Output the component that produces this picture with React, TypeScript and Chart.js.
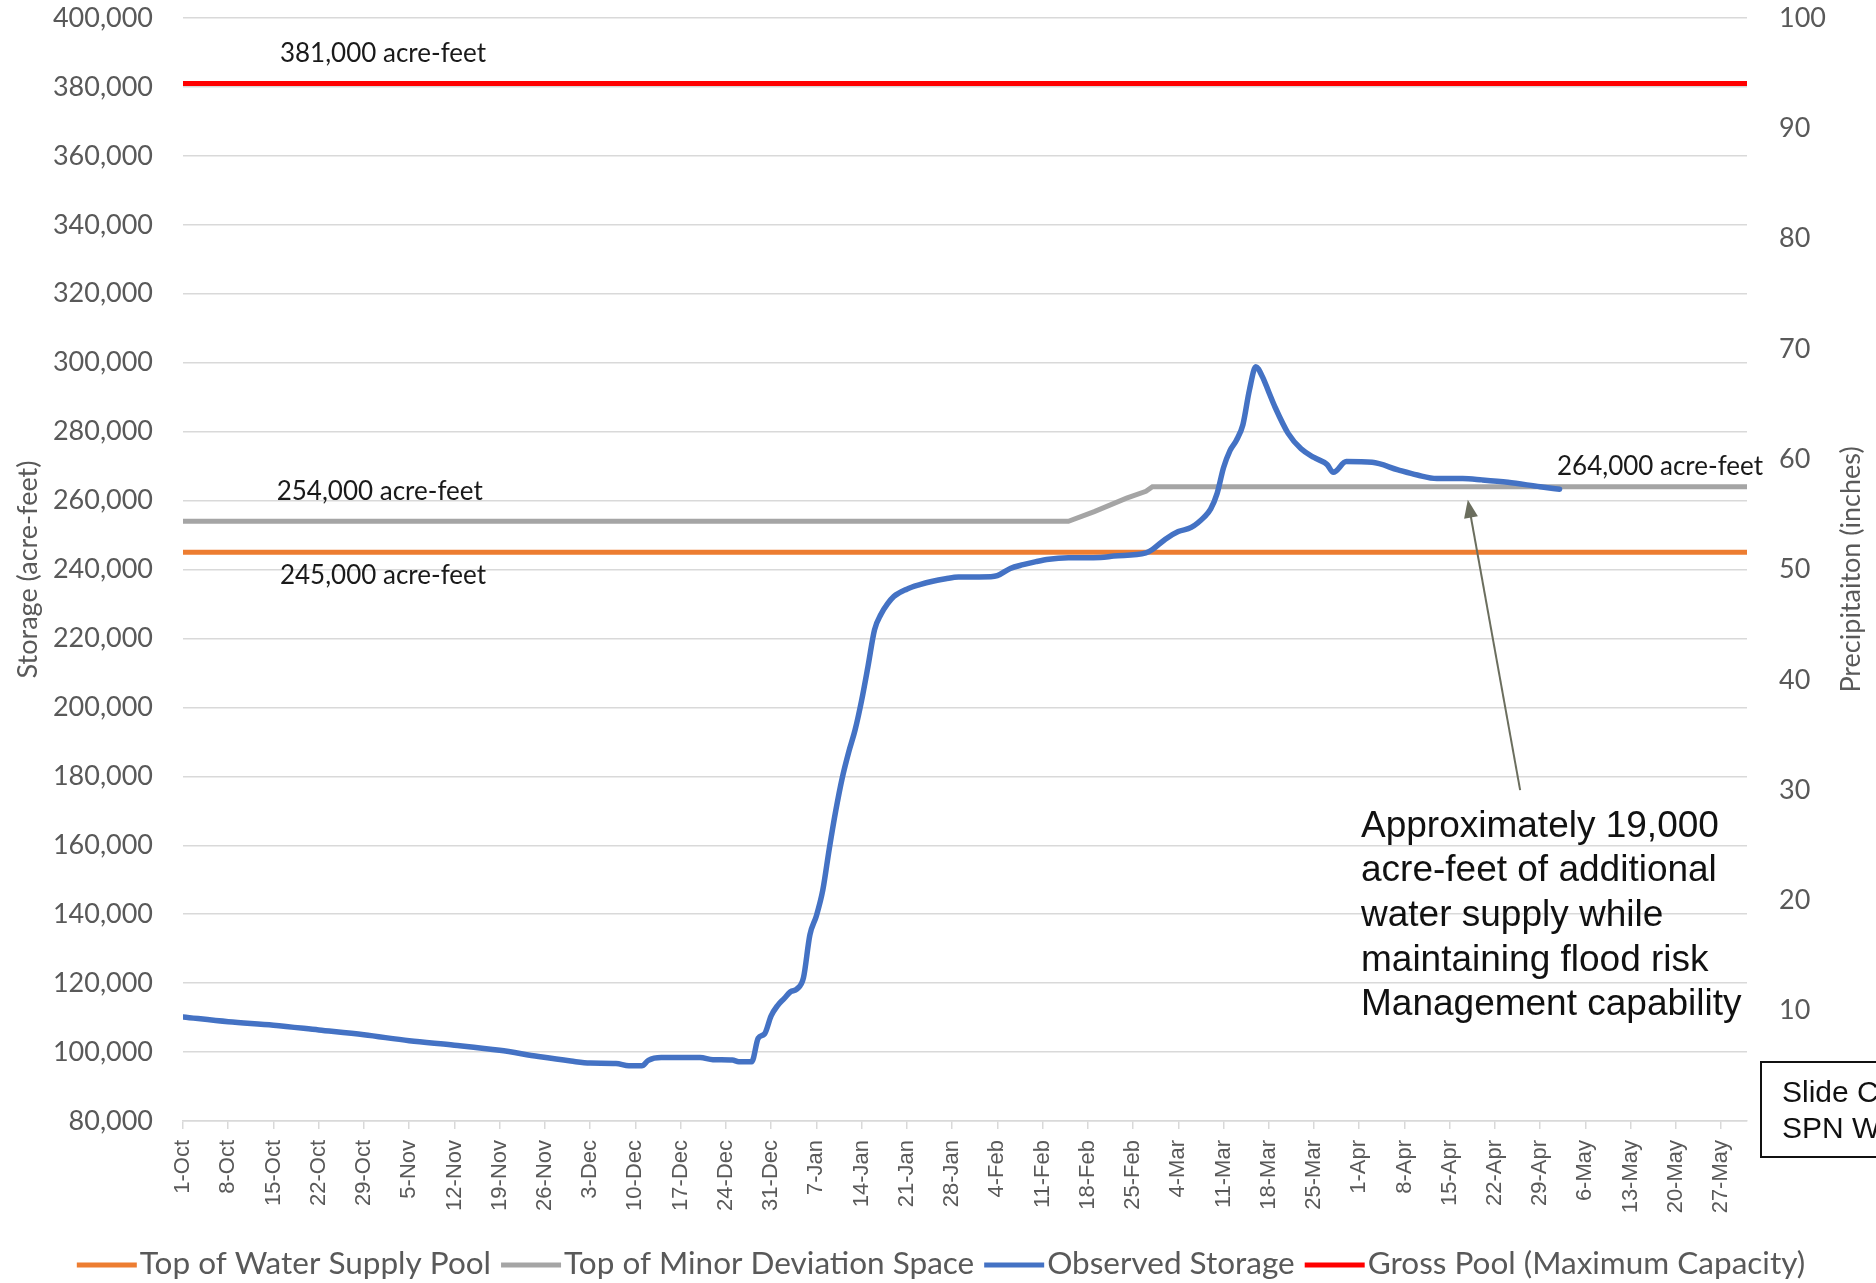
import React, { useEffect, useRef } from "react";
import { Chart, registerables } from "chart.js";

Chart.register(...registerables);

// ---------- DATA ----------
const tickLabels = [
  "1-Oct", "8-Oct", "15-Oct", "22-Oct", "29-Oct",
  "5-Nov", "12-Nov", "19-Nov", "26-Nov",
  "3-Dec", "10-Dec", "17-Dec", "24-Dec", "31-Dec",
  "7-Jan", "14-Jan", "21-Jan", "28-Jan",
  "4-Feb", "11-Feb", "18-Feb", "25-Feb",
  "4-Mar", "11-Mar", "18-Mar", "25-Mar",
  "1-Apr", "8-Apr", "15-Apr", "22-Apr", "29-Apr",
  "6-May", "13-May", "20-May", "27-May",
];
const lastDay = 242; // 31-May (days after 1-Oct)

// Observed storage (acre-feet), by day after 1-Oct
const observedDays = [
  0, 7, 14, 21, 28, 35, 42, 49, 55, 60, 63, 67, 69, 71, 72, 74, 80, 82, 85, 86, 88,
  89, 90, 91, 92, 93, 94, 95, 96, 97, 98, 99, 100, 101, 102, 103, 104, 105, 106, 107,
  108, 109, 110, 112, 114, 116, 118, 120, 125, 126, 128, 130, 132, 134, 137, 142, 144,
  149, 150, 152, 154, 156, 158, 159, 160, 161, 162, 163, 164, 165, 166, 167, 168, 169,
  171, 173, 175, 177, 178, 180, 184, 188, 191, 194, 198, 201, 205, 210, 213,
];
const observedValues = [
  110200, 108800, 107800, 106400, 105000, 103300, 102000, 100500, 98700, 97400, 96800,
  96700, 96000, 96000, 97600, 98400, 98400, 97800, 97700, 97200, 97200,
  104000, 105300, 110500, 113500, 115500, 117500, 118300, 121500, 134000, 139500,
  147000, 159000, 170000, 179500, 187000, 193500, 202000, 212000, 222500,
  227000, 230000, 232200, 234300, 235600, 236600, 237300, 237800, 237900, 238200,
  240300, 241400, 242300, 243000, 243400, 243500, 243900,
  244800, 245800, 248800, 251000, 252200, 255200, 257500, 262000, 269500, 274500,
  277500, 282000, 292000, 298800, 296000, 291500, 287000,
  279500, 275000, 272500, 270500, 268200, 271300, 271100, 268900, 267400, 266400,
  266400, 266000, 265300, 264000, 263300,
];

// Top of Minor Deviation Space
const minorDays = [0, 137, 141, 146, 149, 150, lastDay];
const minorValues = [254000, 254000, 256800, 260700, 262700, 264000, 264000];

// Top of Water Supply Pool
const supplyDays = [0, lastDay];
const supplyValues = [245000, 245000];

// Gross Pool (Maximum Capacity)
const grossDays = [0, lastDay];
const grossValues = [381000, 381000];

const seriesNames = [
  "Top of Water Supply Pool",
  "Top of Minor Deviation Space",
  "Observed Storage",
  "Gross Pool (Maximum Capacity)",
];
const seriesColors = ["#ED7D31", "#A5A5A5", "#4472C4", "#FF0000"];

const calloutLines = [
  "Approximately 19,000",
  "acre-feet of additional",
  "water supply while",
  "maintaining flood risk",
  "Management capability",
];

const toPoints = (xs: number[], ys: number[]) => xs.map((x, i) => ({ x, y: ys[i] }));

// ---------- PLUGIN (labels, callout, titles, legend) ----------
const decorPlugin = {
  id: "decor",
  afterDraw(chart: any) {
    const ctx: CanvasRenderingContext2D = chart.ctx;
    const xs = chart.scales.x;
    const ys = chart.scales.y;
    ctx.save();

    // line value labels
    ctx.fillStyle = "#1a1a1a";
    ctx.font = "26px Lato";
    ctx.textBaseline = "middle";
    ctx.textAlign = "left";
    ctx.fillText("381,000 acre-feet", xs.getPixelForValue(15), ys.getPixelForValue(grossValues[0]) - 30);
    ctx.fillText("254,000 acre-feet", xs.getPixelForValue(14.5), ys.getPixelForValue(minorValues[0]) - 30);
    ctx.fillText("245,000 acre-feet", xs.getPixelForValue(15), ys.getPixelForValue(supplyValues[0]) + 23);
    ctx.fillText("264,000 acre-feet", xs.getPixelForValue(212.6), ys.getPixelForValue(264000) - 20);

    // arrow
    const tipX = xs.getPixelForValue(198.8);
    const tipY = ys.getPixelForValue(260200);
    const tailX = xs.getPixelForValue(206.9);
    const tailY = ys.getPixelForValue(176000);
    const ang = Math.atan2(tipY - tailY, tipX - tailX);
    const headLen = 18;
    const headW = 7;
    ctx.strokeStyle = "#6b6e5e";
    ctx.fillStyle = "#6b6e5e";
    ctx.lineWidth = 2;
    ctx.beginPath();
    ctx.moveTo(tailX, tailY);
    ctx.lineTo(tipX - Math.cos(ang) * headLen * 0.8, tipY - Math.sin(ang) * headLen * 0.8);
    ctx.stroke();
    ctx.beginPath();
    ctx.moveTo(tipX, tipY);
    ctx.lineTo(
      tipX - Math.cos(ang) * headLen + Math.sin(ang) * headW,
      tipY - Math.sin(ang) * headLen - Math.cos(ang) * headW
    );
    ctx.lineTo(
      tipX - Math.cos(ang) * headLen - Math.sin(ang) * headW,
      tipY - Math.sin(ang) * headLen + Math.cos(ang) * headW
    );
    ctx.closePath();
    ctx.fill();

    // callout text
    ctx.fillStyle = "#111";
    ctx.font = "37px 'Liberation Sans'";
    ctx.textBaseline = "alphabetic";
    ctx.textAlign = "left";
    calloutLines.forEach((t, i) => ctx.fillText(t, 1361, 836.7 + i * 44.6));

    // axis titles
    const midY = (chart.chartArea.top + chart.chartArea.bottom) / 2;
    ctx.fillStyle = "#595959";
    ctx.font = "27px Lato";
    ctx.textAlign = "center";
    ctx.textBaseline = "middle";
    ctx.save();
    ctx.translate(28, midY);
    ctx.rotate(-Math.PI / 2);
    ctx.fillText("Storage (acre-feet)", 0, 0);
    ctx.restore();
    ctx.save();
    ctx.translate(1851, midY);
    ctx.rotate(-Math.PI / 2);
    ctx.fillText("Precipitaiton (inches)", 0, 0);
    ctx.restore();

    // slide box
    ctx.fillStyle = "#ffffff";
    ctx.fillRect(1761, 1062, 200, 95);
    ctx.strokeStyle = "#111";
    ctx.lineWidth = 2;
    ctx.strokeRect(1761, 1062, 200, 95);
    ctx.fillStyle = "#111";
    ctx.font = "30px 'Liberation Sans'";
    ctx.textAlign = "left";
    ctx.textBaseline = "alphabetic";
    ctx.fillText("Slide C", 1782, 1101.7);
    ctx.fillText("SPN W", 1782, 1138.3);

    // legend
    ctx.font = "31.5px Lato";
    ctx.textBaseline = "middle";
    const sampleW = 60;
    const gapText = 3;
    const gapItem = 10;
    const widths = seriesNames.map((n) => ctx.measureText(n).width);
    const total = widths.reduce((a, w) => a + sampleW + gapText + w, 0) + gapItem * (seriesNames.length - 1);
    let cx = 941 - total / 2;
    const ly = 1264;
    seriesNames.forEach((n, i) => {
      ctx.strokeStyle = seriesColors[i];
      ctx.lineWidth = 5;
      ctx.lineCap = "butt";
      ctx.beginPath();
      ctx.moveTo(cx, ly + 1);
      ctx.lineTo(cx + sampleW, ly + 1);
      ctx.stroke();
      cx += sampleW + gapText;
      ctx.fillStyle = "#595959";
      ctx.fillText(n, cx, ly);
      cx += widths[i] + gapItem;
    });

    ctx.restore();
  },
};

export default function App() {
  const ref = useRef<HTMLCanvasElement>(null);

  useEffect(() => {
    const canvas = ref.current;
    if (!canvas) return;
    const noVPad = (scale: any, w: number) => {
      scale.width = w;
      scale.paddingTop = 0;
      scale.paddingBottom = 0;
    };
    const chart = new Chart(canvas, {
      type: "line",
      data: {
        datasets: [
          {
            label: seriesNames[0],
            data: toPoints(supplyDays, supplyValues),
            borderColor: seriesColors[0],
            backgroundColor: seriesColors[0],
            borderWidth: 5,
            pointRadius: 0,
            order: 2,
          },
          {
            label: seriesNames[1],
            data: toPoints(minorDays, minorValues),
            borderColor: seriesColors[1],
            backgroundColor: seriesColors[1],
            borderWidth: 5,
            pointRadius: 0,
            order: 1,
          },
          {
            label: seriesNames[2],
            data: toPoints(observedDays, observedValues),
            borderColor: seriesColors[2],
            backgroundColor: seriesColors[2],
            borderWidth: 5.5,
            pointRadius: 0,
            cubicInterpolationMode: "monotone",
            borderCapStyle: "round",
            borderJoinStyle: "round",
            order: 0,
          },
          {
            label: seriesNames[3],
            data: toPoints(grossDays, grossValues),
            borderColor: seriesColors[3],
            backgroundColor: seriesColors[3],
            borderWidth: 5,
            pointRadius: 0,
            order: 3,
          },
        ],
      },
      options: {
        animation: false,
        responsive: false,
        devicePixelRatio: 1,
        layout: { padding: { top: 18, left: 0, right: 0, bottom: 62 } },
        plugins: {
          legend: { display: false },
          tooltip: { enabled: false },
        },
        scales: {
          x: {
            type: "linear",
            position: "bottom",
            min: 0,
            max: lastDay,
            afterBuildTicks: (scale: any) => {
              scale.ticks = tickLabels.map((_, i) => ({ value: i * 7 }));
            },
            afterFit: (scale: any) => {
              scale.height = 100;
            },
            ticks: {
              autoSkip: false,
              minRotation: 90,
              maxRotation: 90,
              padding: 11,
              color: "#595959",
              font: { family: "'Liberation Sans'", size: 22 },
              callback: (value: any) => tickLabels[Math.round(Number(value) / 7)] ?? "",
            },
            grid: {
              drawOnChartArea: false,
              drawTicks: true,
              tickLength: 8,
              color: "#D9D9D9",
              lineWidth: 1.5,
            },
            border: { display: true, color: "#D9D9D9", width: 1.5 },
          },
          y: {
            type: "linear",
            position: "left",
            min: 80000,
            max: 400000,
            afterFit: (scale: any) => noVPad(scale, 183),
            ticks: {
              stepSize: 20000,
              padding: 30,
              color: "#595959",
              font: { family: "Lato", size: 27 },
              callback: (value: any) => Number(value).toLocaleString("en-US"),
            },
            grid: { color: "#D9D9D9", lineWidth: 1.5, drawTicks: false },
            border: { display: false },
          },
          y1: {
            type: "linear",
            position: "right",
            min: 0,
            max: 100,
            afterFit: (scale: any) => noVPad(scale, 129),
            ticks: {
              stepSize: 10,
              padding: 32,
              color: "#595959",
              font: { family: "Lato", size: 27 },
            },
            grid: { drawOnChartArea: false, drawTicks: false },
            border: { display: false },
          },
        },
      },
      plugins: [decorPlugin],
    } as any);
    return () => chart.destroy();
  }, []);

  return (
    <div
      style={{
        position: "fixed",
        left: 0,
        top: 0,
        width: 1876,
        height: 1283,
        overflow: "hidden",
        background: "#ffffff",
      }}
    >
      <canvas ref={ref} width={1876} height={1283} style={{ display: "block", width: 1876, height: 1283 }} />
    </div>
  );
}
